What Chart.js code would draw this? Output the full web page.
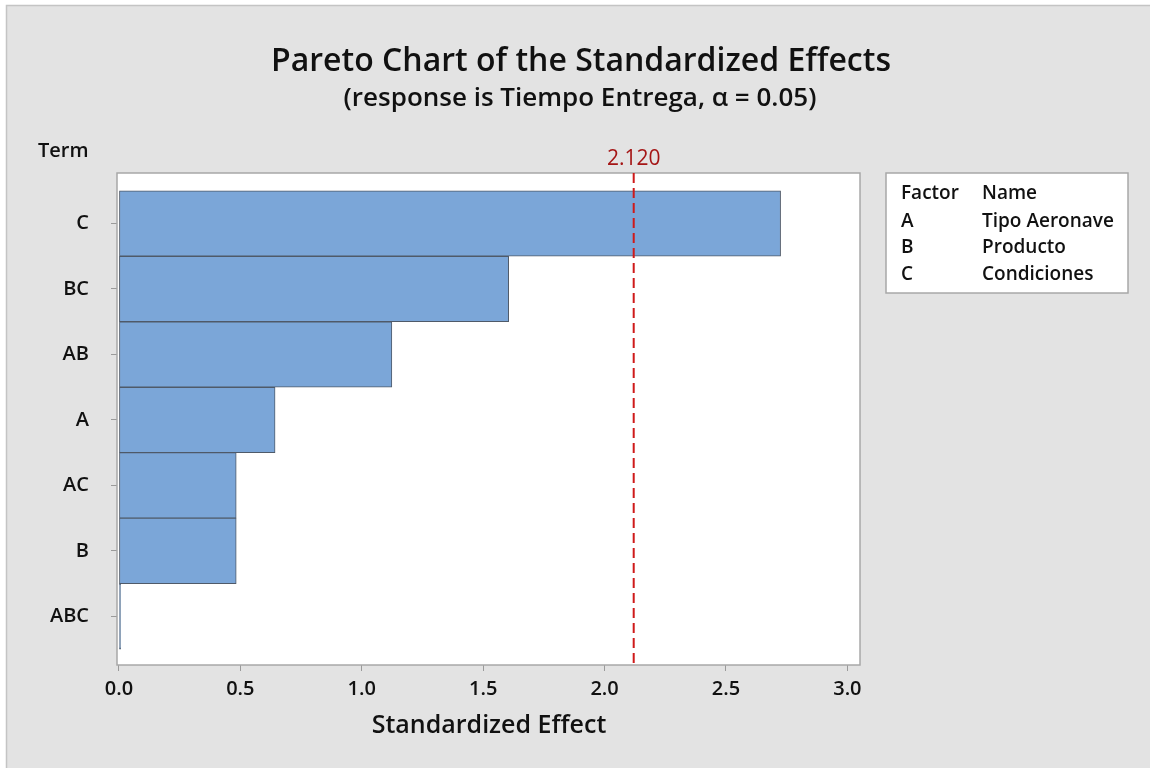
<!DOCTYPE html>
<html>
<head>
<meta charset="utf-8">
<title>Pareto Chart of the Standardized Effects</title>
<script src="https://cdn.jsdelivr.net/npm/chart.js@4.4.1/dist/chart.umd.min.js"></script>
<style>
  html, body { margin: 0; padding: 0; background: #ffffff; }
  #wrap { width: 1150px; height: 768px; }
</style>
</head>
<body>
<div id="wrap"><canvas id="pareto" width="1150" height="768"></canvas></div>
<script>
// Model terms, ordered from largest to smallest standardized effect
const terms = ['C', 'BC', 'AB', 'A', 'AC', 'B', 'ABC'];
const effects = [2.725, 1.605, 1.124, 0.643, 0.483, 0.483, 0.007];
// Reference line: t critical value at alpha = 0.05
const criticalValue = 2.120;
const effectTicks = [0, 0.5, 1.0, 1.5, 2.0, 2.5, 3.0];
// Factor key
const factorCodes = ['A', 'B', 'C'];
const factorNames = ['Tipo Aeronave', 'Producto', 'Condiciones'];

const FONT = '"Open Sans", "Noto Sans", "DejaVu Sans", sans-serif';
const INK = '#111111';

const pareto = {
  id: 'paretoDecor',
  beforeDraw(chart) {
    const ctx = chart.ctx;
    const a = chart.chartArea;
    ctx.save();
    ctx.fillStyle = '#ffffff';
    ctx.fillRect(0, 0, chart.width, chart.height);
    ctx.fillStyle = '#e3e3e3';
    ctx.fillRect(6, 5, chart.width - 6, chart.height - 5);
    ctx.strokeStyle = '#c4c4c4';
    ctx.lineWidth = 1.5;
    ctx.beginPath();
    ctx.moveTo(6.5, chart.height);
    ctx.lineTo(6.5, 5.5);
    ctx.lineTo(chart.width, 5.5);
    ctx.stroke();
    ctx.fillStyle = '#ffffff';
    ctx.fillRect(a.left, a.top, a.right - a.left, a.bottom - a.top);
    ctx.restore();
  },
  afterDatasetsDraw(chart) {
    const ctx = chart.ctx;
    const a = chart.chartArea;
    const xs = chart.scales.x;
    ctx.save();
    // plot frame
    ctx.strokeStyle = '#a8a8a8';
    ctx.lineWidth = 1.5;
    ctx.strokeRect(a.left, a.top, a.right - a.left, a.bottom - a.top);
    // significance line
    const xc = xs.getPixelForValue(criticalValue);
    ctx.strokeStyle = '#cf1a1a';
    ctx.lineWidth = 2;
    ctx.setLineDash([10, 5]);
    ctx.beginPath();
    ctx.moveTo(xc, a.top);
    ctx.lineTo(xc, a.bottom);
    ctx.stroke();
    ctx.setLineDash([]);
    ctx.fillStyle = '#a51616';
    ctx.font = '21px ' + FONT;
    ctx.textAlign = 'center';
    ctx.textBaseline = 'middle';
    ctx.fillText(criticalValue.toFixed(3), xc, 159);
    ctx.restore();
  },
  afterDraw(chart) {
    const ctx = chart.ctx;
    ctx.save();
    ctx.fillStyle = INK;
    ctx.textAlign = 'center';
    ctx.textBaseline = 'middle';
    ctx.font = '600 32px ' + FONT;
    ctx.fillText('Pareto Chart of the Standardized Effects', 581, 62);
    ctx.font = '600 26px ' + FONT;
    ctx.fillText('(response is Tiempo Entrega, \u03b1 = 0.05)', 580, 99);
    ctx.font = '600 25px ' + FONT;
    ctx.fillText('Standardized Effect', 489, 726);
    ctx.textAlign = 'left';
    ctx.font = '600 20px ' + FONT;
    ctx.fillText('Term', 38, 151);

    // factor key box
    const bx = 886, by = 173, bw = 242, bh = 120;
    ctx.fillStyle = '#ffffff';
    ctx.fillRect(bx, by, bw, bh);
    ctx.strokeStyle = '#a8a8a8';
    ctx.lineWidth = 1.5;
    ctx.strokeRect(bx, by, bw, bh);
    ctx.fillStyle = INK;
    ctx.font = '600 19px ' + FONT;
    const rows = [['Factor', 'Name']].concat(factorCodes.map((c, i) => [c, factorNames[i]]));
    const rowY = [194, 222, 248, 275];
    rows.forEach((r, i) => {
      ctx.fillText(r[0], 901, rowY[i]);
      ctx.fillText(r[1], 982, rowY[i]);
    });
    ctx.restore();
  }
};

new Chart(document.getElementById('pareto'), {
  type: 'bar',
  data: {
    datasets: [{
      data: effects.map((v, i) => ({ x: v, y: i })),
      backgroundColor: '#7ba6d8',
      borderColor: '#4f5a69',
      borderWidth: 1,
      borderSkipped: false,
      barPercentage: 1,
      categoryPercentage: 1
    }]
  },
  options: {
    indexAxis: 'y',
    responsive: false,
    animation: false,
    devicePixelRatio: 1,
    layout: { padding: { left: 0, top: 173, right: 290, bottom: 0 } },
    plugins: { legend: { display: false }, tooltip: { enabled: false }, title: { display: false } },
    scales: {
      x: {
        type: 'linear',
        min: -0.008,
        max: 3.052,
        offset: false,
        afterBuildTicks(scale) {
          scale.ticks = effectTicks.map(v => ({ value: v }));
        },
        afterFit(scale) { scale.height = 103; },
        grid: { drawOnChartArea: false, offset: false, tickLength: 6, color: '#9a9a9a', lineWidth: 1 },
        border: { display: false },
        ticks: {
          color: INK,
          padding: 6,
          maxRotation: 0,
          autoSkip: false,
          font: { family: FONT, size: 20, weight: '600' },
          callback: v => Number(v).toFixed(1)
        }
      },
      y: {
        type: 'linear',
        reverse: true,
        offset: false,
        min: -0.771,
        max: 6.742,
        afterBuildTicks(scale) {
          scale.ticks = terms.map((t, i) => ({ value: i }));
        },
        afterFit(scale) { scale.width = 117; },
        grid: { drawOnChartArea: false, offset: false, tickLength: 6, color: '#9a9a9a', lineWidth: 1 },
        border: { display: false },
        ticks: {
          color: INK,
          padding: 22,
          autoSkip: false,
          font: { family: FONT, size: 20, weight: '600' },
          callback: v => terms[v]
        }
      }
    }
  },
  plugins: [pareto]
});
</script>
</body>
</html>
